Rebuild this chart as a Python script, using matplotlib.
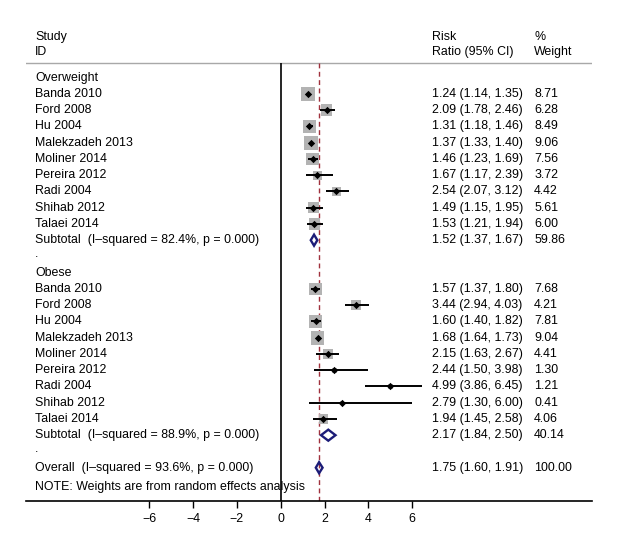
import numpy as np
import matplotlib.pyplot as plt
from matplotlib.patches import Polygon

plt.rcParams['font.family'] = ['Liberation Sans', 'DejaVu Sans']

studies = ['Banda 2010', 'Ford 2008', 'Hu 2004', 'Malekzadeh 2013', 'Moliner 2014',
           'Pereira 2012', 'Radi 2004', 'Shihab 2012', 'Talaei 2014']

# overweight group
ow_rr = [1.24, 2.09, 1.31, 1.37, 1.46, 1.67, 2.54, 1.49, 1.53]
ow_lo = [1.14, 1.78, 1.18, 1.33, 1.23, 1.17, 2.07, 1.15, 1.21]
ow_hi = [1.35, 2.46, 1.46, 1.40, 1.69, 2.39, 3.12, 1.95, 1.94]
ow_w = [8.71, 6.28, 8.49, 9.06, 7.56, 3.72, 4.42, 5.61, 6.00]
ow_sub = [1.52, 1.37, 1.67, 59.86]

# obese group
ob_rr = [1.57, 3.44, 1.60, 1.68, 2.15, 2.44, 4.99, 2.79, 1.94]
ob_lo = [1.37, 2.94, 1.40, 1.64, 1.63, 1.50, 3.86, 1.30, 1.45]
ob_hi = [1.80, 4.03, 1.82, 1.73, 2.67, 3.98, 6.45, 6.00, 2.58]
ob_w = [7.68, 4.21, 7.81, 9.04, 4.41, 1.30, 1.21, 0.41, 4.06]
ob_sub = [2.17, 1.84, 2.50, 40.14]

overall = [1.75, 1.60, 1.91, 100.00]

groups = ['Overweight', 'Obese']
sub_text = ['Subtotal  (I\u2013squared = 82.4%, p = 0.000)',
            'Subtotal  (I\u2013squared = 88.9%, p = 0.000)']
overall_text = 'Overall  (I\u2013squared = 93.6%, p = 0.000)'
note_text = 'NOTE: Weights are from random effects analysis'
xticks = [-6, -4, -2, 0, 2, 4, 6]

fs = 8.9
navy = '#1c1c78'
dred = '#a0313d'

fig = plt.figure(figsize=(6.19, 5.37), dpi=100)
ax = fig.add_axes([26 / 619, 36 / 537, 566 / 619, 501 / 537])
ax.set_xlim(-11.63, 14.21)
ax.set_ylim(26.05, -4.78)

xl, xr, xw = -11.22, 6.89, 11.57  # text columns


def fmt(r, lo, hi):
    return '%.2f (%.2f, %.2f)' % (r, lo, hi)


def diamond(row, r, lo, hi):
    h = 0.34
    ax.add_patch(Polygon([(lo, row), (r, row - h), (hi, row), (r, row + h)],
                         closed=True, fill=False, edgecolor=navy, lw=1.7, zorder=6))


# header
ax.text(xl, -2.5, 'Study', fontsize=fs, va='center')
ax.text(xl, -1.58, 'ID', fontsize=fs, va='center')
ax.text(xr, -2.5, 'Risk', fontsize=fs, va='center')
ax.text(xr, -1.58, 'Ratio (95% CI)', fontsize=fs, va='center')
ax.text(xw, -2.5, '%', fontsize=fs, va='center')
ax.text(xw, -1.58, 'Weight', fontsize=fs, va='center')
ax.axhline(-0.905, color='#a8a8a8', lw=1.0)

data = [(ow_rr, ow_lo, ow_hi, ow_w, ow_sub), (ob_rr, ob_lo, ob_hi, ob_w, ob_sub)]
row = 0
for g, (rr, lo, hi, w, sub) in enumerate(data):
    ax.text(xl, row, groups[g], fontsize=fs, va='center')
    row += 1
    ys = np.arange(row, row + len(studies))
    ax.scatter(rr, ys, s=np.array(w) * 11, marker='s', color='#b3b3b3', lw=0, zorder=3)
    ax.hlines(ys, lo, hi, color='black', lw=1.4, zorder=4)
    ax.scatter(rr, ys, s=14, marker='D', color='black', lw=0, zorder=5)
    for i in range(len(studies)):
        ax.text(xl, ys[i], studies[i], fontsize=fs, va='center')
        ax.text(xr, ys[i], fmt(rr[i], lo[i], hi[i]), fontsize=fs, va='center')
        ax.text(xw, ys[i], '%.2f' % w[i], fontsize=fs, va='center')
    row += len(studies)
    ax.text(xl, row, sub_text[g], fontsize=fs, va='center')
    ax.text(xr, row, fmt(*sub[:3]), fontsize=fs, va='center')
    ax.text(xw, row, '%.2f' % sub[3], fontsize=fs, va='center')
    diamond(row, *sub[:3])
    row += 1
    ax.text(xl, row - 0.15, '.', fontsize=fs, va='center')
    row += 1

# overall
ax.text(xl, row, overall_text, fontsize=fs, va='center')
ax.text(xr, row, fmt(*overall[:3]), fontsize=fs, va='center')
ax.text(xw, row, '%.2f' % overall[3], fontsize=fs, va='center')
diamond(row, *overall[:3])
ax.text(xl, row + 1.2, note_text, fontsize=fs, va='center', zorder=1)

# reference lines
ax.vlines(0, -0.905, 26.05, color='black', lw=1.2, zorder=2)
ax.vlines(overall[0], -0.905, 26.05, color=dred, lw=1.0, linestyles=(0, (3.5, 2.5)), zorder=2)

for s in ['top', 'left', 'right']:
    ax.spines[s].set_visible(False)
ax.spines['bottom'].set_linewidth(1.2)
ax.set_xticks(xticks)
ax.set_yticks([])
ax.tick_params(axis='x', length=5, width=1, pad=4, labelsize=fs)

fig.savefig('out.png', dpi=100)
